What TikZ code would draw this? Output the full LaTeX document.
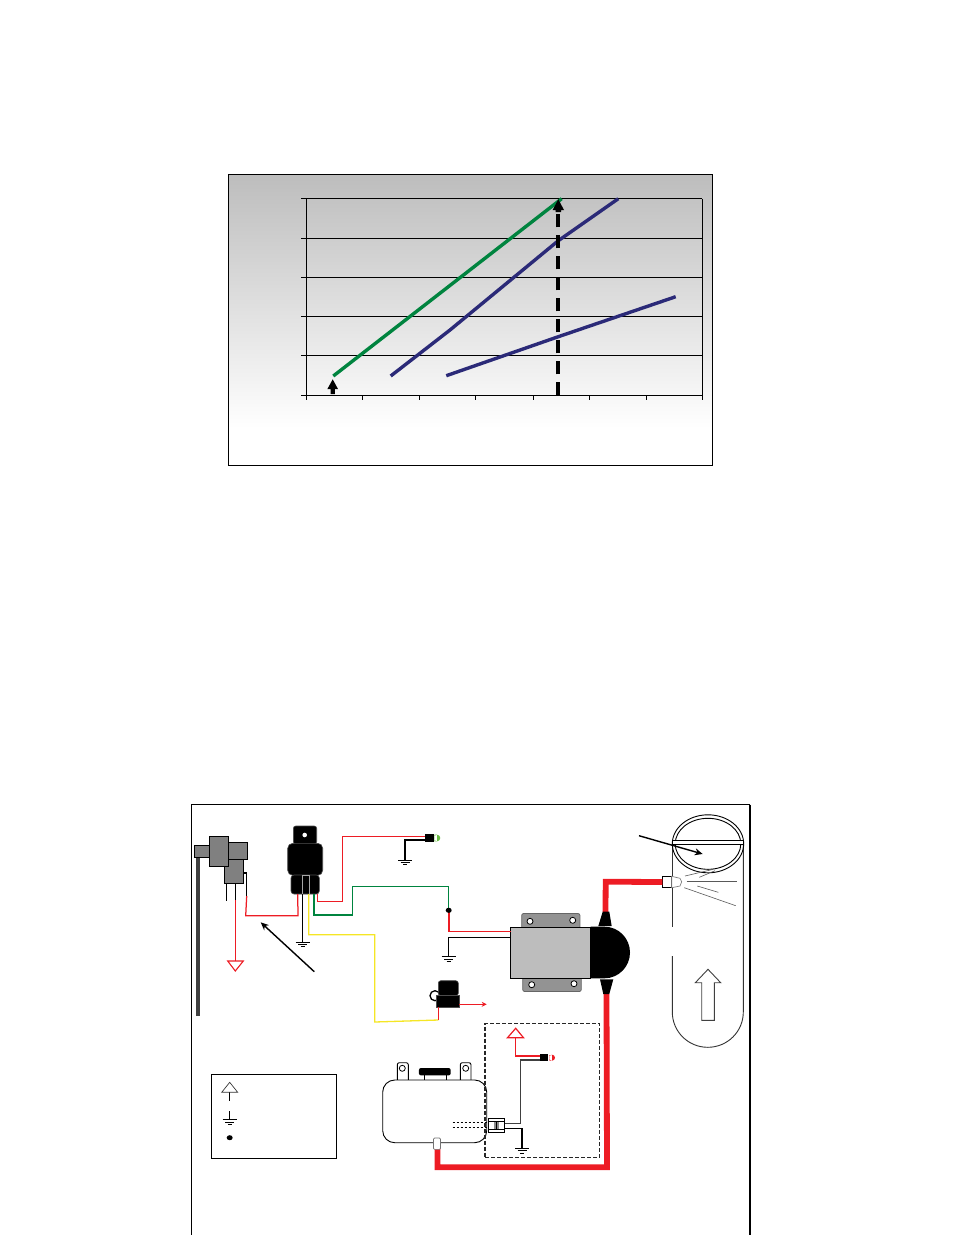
\documentclass[tikz,border=0pt]{standalone}
\usetikzlibrary{arrows.meta}
\definecolor{wred}{HTML}{ED1C24}
\definecolor{wgreen}{HTML}{00843F}
\definecolor{wblue}{HTML}{2B2A78}
\definecolor{wyellow}{HTML}{F5E625}
\definecolor{bodygrey}{HTML}{BDBDBD}
\definecolor{partgrey}{HTML}{808080}
\definecolor{ledgreen}{HTML}{6ABD45}
\tikzset{
  every node/.style={outer sep=0pt},
  wire/.style={line width=1.25pt,line join=miter},
  thickwire/.style={line width=5.8pt,draw=wred,line join=miter},
  curve/.style={line width=3.4pt,line join=round},
  grid line/.style={line width=.9pt,black},
  part/.style={draw=black,fill=partgrey,line width=1pt},
  blk/.style={fill=black,draw=black!70,line width=.6pt,rounded corners=2.5pt},
  spray/.style={line width=.6pt,draw=black!65},
  pointer/.style={line width=1.4pt,-{Stealth[length=8pt,width=7pt]}},
  gndmark/.pic={
    \draw[line width=.9pt] (-7,0) -- (7,0);
    \draw[line width=.9pt] (-4.5,2.4) -- (4.5,2.4);
    \draw[line width=.9pt] (-2,4.8) -- (2,4.8);
  }
}
\begin{document}
\begin{tikzpicture}[x=1pt,y=-1pt]
\useasboundingbox (0,0) rectangle (954,1235);

% ---------- chart ----------
\shade[top color=bodygrey,bottom color=white] (228.7,174.7) rectangle (712.7,428);
\node[draw=black,line width=1pt,minimum width=484pt,minimum height=290.6pt,inner sep=0pt,anchor=north west] (chart) at (228.7,174.7) {};
\foreach \yy in {198.7,238.3,277.3,316.3,355.3,395.3}
  \draw[grid line] (301,\yy) -- (702.3,\yy);
\draw[grid line] (306.7,198.7) -- (306.7,400);
\draw[grid line] (702.3,198.7) -- (702.3,400);
\foreach \xx in {306.7,362.3,419.3,475.3,533.3,589.3,646.3}
  \draw[grid line] (\xx,395.3) -- (\xx,400);
\draw[curve,wgreen] (333.3,376) -- (391.7,330.7) -- (561.7,198.7);
\draw[curve,wblue] (390.7,376) -- (450,330) -- (558.3,240.7) -- (618.3,198.7);
\draw[curve,wblue] (446.3,375.7) -- (558.3,336.7) -- (675.7,296.7);
\coordinate (dashfoot) at (558.3,395.3);
\coordinate (dashtop) at (558.3,199.3);
\draw[line width=4.2pt,dash pattern=on 13pt off 8pt] (dashfoot) -- (558.3,210);
\fill (dashtop) -- (564,210) -- (561,210) -- (561,212) -- (555.6,212) -- (555.6,210) -- (552.6,210) -- cycle;
\coordinate (liftfoot) at (332.7,394);
\fill (332.7,379.3) -- (338,389) -- (334.8,389) -- (334.8,394) -- (330.6,394) -- (330.6,389) -- (327.4,389) -- cycle;

% ---------- wiring frame ----------
\draw[line width=1pt] (191.3,1235) -- (191.3,804.5) -- (750,804.5);
\draw[line width=1.6pt] (750,804.5) -- (750,1235);

% ---------- tube ----------
\draw[line width=.9pt,black!80] (672.3,841.7) -- (672.3,926.7);
\draw[line width=.9pt,black!80] (672.3,956) -- (672.3,1012) .. controls (672.3,1031.6) and (688.2,1047.3) .. (707.8,1047.3) .. controls (727.4,1047.3) and (743.3,1031.6) .. (743.3,1012) -- (743.3,841.7);
\draw[line width=.9pt] (708,843.8) ellipse[x radius=35.7,y radius=29];
\draw[line width=.9pt] (708,843.8) ellipse[x radius=32.8,y radius=25.5];
\draw[line width=.9pt,fill=white] (672.3,840.7) rectangle (743.3,844.3);
\draw[spray] (685,876) -- (713.3,869.3);
\draw[spray] (699.3,877.3) -- (715,870.7);
\draw[spray] (686.7,881.3) -- (736.7,881.3);
\draw[spray] (697.3,886) -- (718.3,892.3);
\draw[spray] (684.3,887.7) -- (735.7,905.7);
\draw[pointer] (639,835.7) -- (702.7,854);
\draw[line width=.9pt,draw=black!75,fill=white] (708,969.3) -- (720.7,982.7) -- (714.3,982.7) -- (714.3,1020.3) -- (701.7,1020.3) -- (701.7,982.7) -- (695.3,982.7) -- cycle;

% ---------- thick feed line ----------
\node[draw=black,fill=white,line width=.9pt,minimum width=9.4pt,minimum height=11.4pt,inner sep=0pt] (nozzle) at (667,882) {};
\draw[line width=.7pt,draw=black!50,fill=white] (671.7,876.3) -- (680,878.3) -- (681.7,881.7) -- (680,886) -- (671.7,887.7) -- cycle;
\coordinate (valvetop) at (605.5,912);
\coordinate (valvebot) at (606.5,994);
\draw[thickwire] (valvetop) -- (605.7,881.7) -- (nozzle.west);
\draw[thickwire] (valvebot) -- (607,1167.3) -- (437.5,1167.3) -- (437.5,1149);

% ---------- pump ----------
\node[draw=black!60,fill=partgrey!85,line width=.8pt,rounded corners=2pt,minimum width=58.3pt,minimum height=15pt,inner sep=0pt] (brktop) at (550.8,921) {};
\node[draw=black!60,fill=partgrey!85,line width=.8pt,rounded corners=2pt,minimum width=58.6pt,minimum height=14pt,inner sep=0pt] (brkbot) at (552,984.5) {};
\foreach \hx/\hy in {530/921.3,572.7/920.3,531.7/984.7,574/983.7}
  \draw[line width=.8pt,fill=white] (\hx,\hy) circle[radius=3];
\node[draw=black,fill=bodygrey,line width=1pt,minimum width=80pt,minimum height=51pt,inner sep=0pt,anchor=north west] (pump) at (510.7,927.3) {};
\coordinate (pumpred) at (510.7,931.3);
\coordinate (pumpblack) at (510.7,937.3);
\fill (590.7,926.7) -- (604.5,926.7) .. controls (618.6,926.7) and (630,938.3) .. (630,952.5) .. controls (630,966.7) and (618.6,978.3) .. (604.5,978.3) -- (590.7,978.3) -- cycle;
\fill (602.7,911.7) -- (609.3,911.7) -- (611.7,926) -- (598.3,926) -- cycle;
\fill (600,979.3) -- (613.3,979.3) -- (609.3,994) -- (603.3,994) -- cycle;

% ---------- solenoid ----------
\fill[black!75] (196,856) rectangle (199.5,1016);
\node[part,minimum width=16pt,minimum height=12pt,inner sep=0pt,anchor=north west] (cap) at (194,845) {};
\node[part,minimum width=19.5pt,minimum height=17pt,inner sep=0pt,anchor=north west] (solr) at (228,842) {};
\node[part,minimum width=19pt,minimum height=24pt,inner sep=0pt,anchor=north west] (sollow) at (224,859) {};
\node[part,minimum width=19pt,minimum height=30pt,inner sep=0pt,anchor=north west] (solmid) at (209,836) {};
\draw[wire] (226.7,883) -- (226.7,900.7);
\draw[wire] (235.3,883) -- (235.3,900);
\draw[wire,wred] (235.3,900) -- (235.3,961);
\draw[wred,line width=1.1pt,fill=white] (227.7,961) -- (243.3,961) -- (235.3,971) -- cycle;
\draw[wire] (243,873) -- (246.7,873) -- (246.7,896);

% ---------- relay ----------
\node[blk,minimum width=23.4pt,minimum height=18pt,inner sep=0pt,anchor=north west] (tab) at (293.3,826) {};
\draw[fill=white,draw=none] (304.7,835) circle[radius=2.3];
\node[blk,rounded corners=5pt,minimum width=35pt,minimum height=32pt,inner sep=0pt,anchor=north west] (relay) at (287.7,843.3) {};
\node[blk,rounded corners=3pt,minimum width=28.3pt,minimum height=19pt,inner sep=0pt,anchor=north west] (relaybase) at (291,875) {};
\draw[draw=black!35,line width=.8pt] (302.3,875) rectangle (309,894);

% relay wires
\coordinate (gnda) at (302.7,942);
\draw[wire] (302.7,894) -- (gnda);
\pic at (gnda) {gndmark};
\draw[wire,wred] (246.7,896) -- (245.7,915.7) -- (298,915.7) -- (297.7,894);
\coordinate (ledg) at (425,836.7);
\draw[wire,wred] (317.3,894) -- (317.3,901.3) -- (342.3,901.3) -- (342.3,836.7) -- (ledg);
\coordinate (gndb) at (405,860);
\draw[wire] (425,840) -- (405,840) -- (gndb);
\pic at (gndb) {gndmark};
\fill[ledgreen] (434.3,834.7) rectangle (437,841.3) (437,838) circle[radius=3.3];
\node[fill=black,minimum width=9.3pt,minimum height=8pt,inner sep=0pt,anchor=north west] (ledgb) at (425,834.3) {};
\coordinate (node1) at (448.7,910.3);
\draw[wire,wgreen,line width=1.3pt] (314,894) -- (314,915) -- (352.7,915) -- (352.7,886.7) -- (448.7,886.7) -- (node1);
\draw[wred,line width=1.6pt,line join=miter] (node1) -- (448.7,931.3) -- (pumpred);
\fill (node1) ellipse[x radius=3,y radius=2.6];
\coordinate (gndc) at (448.7,956.7);
\draw[wire] (gndc) -- (448.7,937.3) -- (pumpblack);
\pic at (gndc) {gndmark};
\draw[wire,wyellow,line width=1.3pt] (308.7,894) -- (308.7,934.7) -- (374.7,934.7) -- (374.7,1022) -- (438.3,1020);
\draw[pointer] (314.3,971.7) -- (260.7,922.3);

% ---------- small relay ----------
\draw[line width=1.3pt] (435,995.7) circle[radius=5];
\node[blk,minimum width=20pt,minimum height=15pt,inner sep=0pt,anchor=north west] (sr) at (438.3,980.7) {};
\node[fill=black,draw=black!70,line width=.5pt,minimum width=22.6pt,minimum height=12.3pt,inner sep=0pt,anchor=north west] (srb) at (436.7,995) {};
\draw[wire,wred] (438.3,1020) -- (438.3,1007.3);
\coordinate (srout) at (486.7,1004.3);
\draw[wire,wred,-{Stealth[length=5pt,width=5pt]}] (srb.east |- srout) -- (srout);

% ---------- module ----------
\draw[line width=.9pt,fill=white,rounded corners=2pt] (397.3,1080) -- (397.3,1062.7) -- (408.3,1062.7) -- (408.3,1080);
\draw[line width=.9pt,fill=white,rounded corners=2pt] (460.3,1080) -- (460.3,1062.7) -- (471,1062.7) -- (471,1080);
\draw[line width=.8pt] (402.3,1068.3) circle[radius=3];
\draw[line width=.8pt] (465.7,1068.3) circle[radius=3];
\draw[line width=.9pt] (424.3,1075) -- (424.3,1080) (446.3,1075) -- (446.3,1080);
\node[fill=black,rounded corners=2pt,minimum width=31.7pt,minimum height=7.4pt,inner sep=0pt] (modbar) at (434.8,1071.7) {};
\node[draw=black,fill=white,line width=.9pt,rounded corners=12pt,minimum width=104pt,minimum height=62.7pt,inner sep=0pt,anchor=north west] (module) at (382.7,1080) {};
\node[draw=black!55,fill=white,line width=.7pt,rounded corners=1pt,minimum width=7pt,minimum height=11.3pt,inner sep=0pt] (modport) at (437,1143.7) {};
\draw[line width=.9pt,dash pattern=on 2.5pt off 1.5pt] (452.7,1122.7) -- (488.3,1122.7);
\draw[line width=.9pt,dash pattern=on 2.5pt off 1.5pt] (452.7,1127) -- (488.3,1127);

% ---------- dashed box ----------
\node[draw=black!85,line width=1.5pt,dash pattern=on 4pt off 2pt,minimum width=114.3pt,minimum height=134pt,inner sep=0pt,anchor=north west] (dbox) at (485,1023.3) {};
\node[draw=black,fill=white,line width=.8pt,minimum width=16.4pt,minimum height=14.4pt,inner sep=0pt,anchor=north west] (term) at (488.3,1118.3) {};
\draw[line width=.8pt] (488.3,1121.7) -- (504.7,1121.7) (488.3,1129.3) -- (504.7,1129.3);
\fill[black!45] (494,1121.7) rectangle (499.3,1128.5);
\draw[line width=.5pt] (496.6,1121.7) -- (496.6,1128.5);
\draw[wire,black!75] (term.east |- 0,1123.3) -- (520.3,1123.3) -- (520.3,1060) -- (540,1060);
\coordinate (gndd) at (522,1148.3);
\draw[wire] (term.east |- 0,1128.3) -- (522,1128.3) -- (gndd);
\pic at (gndd) {gndmark};
\draw[wire,wred,line width=1.5pt] (515.7,1037.7) -- (515.7,1056) -- (540,1056);
\draw[wred,line width=1.2pt,fill=white] (515.7,1028.3) -- (523.5,1037.7) -- (507.5,1037.7) -- cycle;
\fill[wred] (549.3,1055) rectangle (552,1060.5) (552,1057.7) circle[radius=3];
\node[fill=black,minimum width=8.3pt,minimum height=6.7pt,inner sep=0pt,anchor=north west] (ledr) at (540,1054.3) {};

% ---------- legend ----------
\node[draw=black,line width=.9pt,minimum width=125.4pt,minimum height=84pt,inner sep=0pt,anchor=north west] (legend) at (211.3,1074.3) {};
\draw[line width=.7pt] (229.7,1092.3) -- (229.7,1100.7);
\draw[line width=.7pt,draw=black!80] (229.7,1082.3) -- (237.7,1092.3) -- (221.7,1092.3) -- cycle;
\coordinate (leggnd) at (229.7,1119.8);
\draw[line width=.7pt] (229.7,1111) -- (leggnd);
\pic at (leggnd) {gndmark};
\fill (229.7,1137.7) ellipse[x radius=3,y radius=2.5];
\end{tikzpicture}
\end{document}
